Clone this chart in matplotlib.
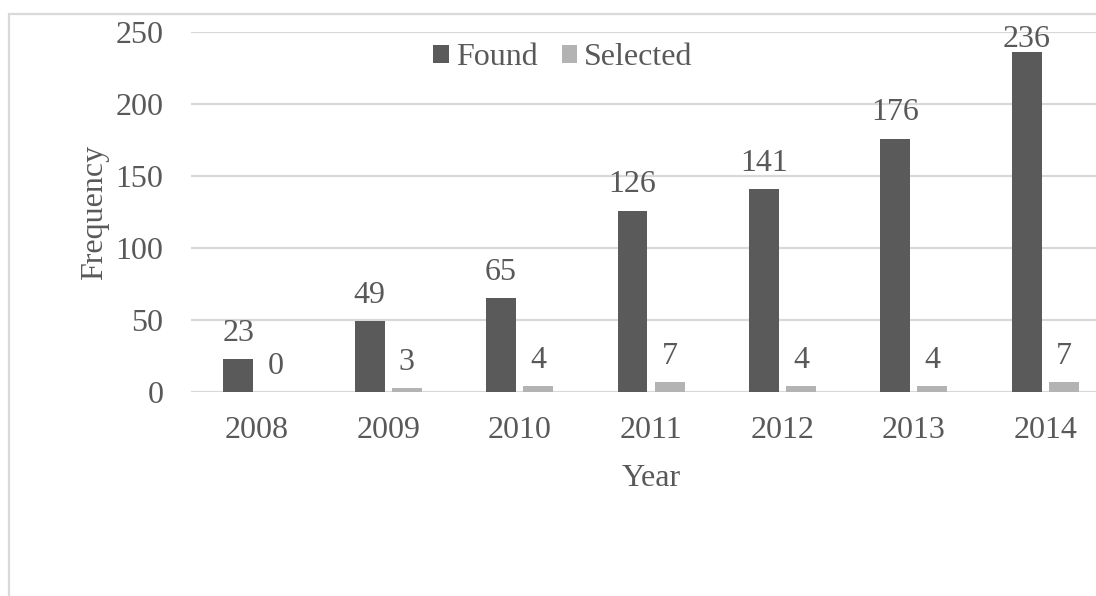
#Imports
import numpy as np
import matplotlib
matplotlib.use('Agg')
import matplotlib.pyplot as plt
from matplotlib.patches import Rectangle

# data
years = ['2008', '2009', '2010', '2011', '2012', '2013', '2014']
found = [23, 49, 65, 126, 141, 176, 236]
selected = [0, 3, 4, 7, 4, 4, 7]
y_ticks = [0, 50, 100, 150, 200, 250]

dark = '#5a5a5a'
light = '#b3b3b3'
txt = '#595959'
grid_c = '#d9d9d9'

plt.rcParams['font.family'] = ['Liberation Serif', 'DejaVu Serif']
fs = 23

fig = plt.figure(figsize=(10.96, 5.96), dpi=100)
# outer chart border (cropped on right and bottom)
fig.patches.append(Rectangle((0.0082, -0.1), 1.2, 1.0765, transform=fig.transFigure,
	fill=False, edgecolor=grid_c, linewidth=1.6))

ax = fig.add_axes([0.1743, 0.3423, 0.8394, 0.604])

x = np.arange(len(years))
w = 0.228
off = 0.141
b1 = ax.bar(x-off, found, w, color=dark, label='Found')
b2 = ax.bar(x+off, selected, w, color=light, label='Selected')

ymax = 250
for bars, vals in ((b1, found), (b2, selected)):
	for rect, v in zip(bars, vals):
		# label pushed down when it would run past the top of the plot
		dy = 8 if v < 0.9*ymax else -1
		ax.annotate(str(v), (rect.get_x()+rect.get_width()/2, v), xytext=(0, dy),
			textcoords='offset points', ha='center', va='bottom', fontsize=fs,
			color=txt, annotation_clip=False)

ax.set_xlim(-0.5, len(years)-0.5)
ax.set_ylim(0, ymax)
ax.set_yticks(y_ticks)
ax.set_xticks(x)
ax.set_xticklabels(years)
ax.tick_params(axis='both', length=0, labelsize=fs, labelcolor=txt)
ax.tick_params(axis='y', pad=20)
ax.tick_params(axis='x', pad=17)

ax.yaxis.grid(True, color=grid_c, linewidth=1.6)
ax.set_axisbelow(True)
for s in ax.spines.values():
	s.set_visible(False)

ax.set_ylabel('Frequency', fontsize=fs, color=txt)
ax.yaxis.set_label_coords(-0.089, 0.5)
ax.set_xlabel('Year', fontsize=fs, color=txt, labelpad=14)

fig.legend(loc='center', bbox_to_anchor=(0.5137, 0.9027), ncol=2, frameon=False,
	fontsize=fs, labelcolor=txt, handlelength=0.48, handleheight=0.48,
	handletextpad=0.22, columnspacing=0.76, borderpad=0)

fig.savefig('out.png', dpi=100)
